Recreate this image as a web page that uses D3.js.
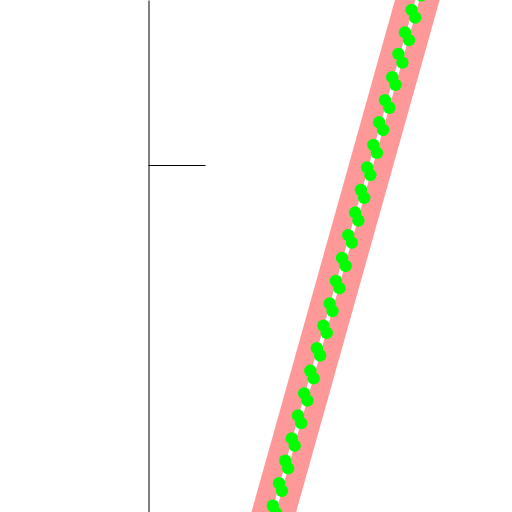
<!DOCTYPE html>
<html>
<head>
<meta charset="utf-8">
<script src="https://cdn.jsdelivr.net/npm/d3@7"></script>
<style>
  html, body { margin: 0; padding: 0; background: #fff; }
  svg { display: block; overflow: hidden; }
</style>
</head>
<body>
<div id="chart"></div>
<script>
// Trend line (band + center line) endpoints
const lineX = [32.4, 76.3];
const lineY = [-8.1, 156.2];

// Marker points
const dotX = [74.2, 75.1, 72.4, 73.4, 70.6, 71.7, 68.8, 69.9, 67.1, 68.0,
              65.1, 66.3, 63.5, 64.6, 61.9, 62.9, 60.2, 61.1, 58.5, 59.4,
              56.9, 57.8, 55.0, 56.0, 53.3, 54.3, 51.6, 52.6, 49.9, 50.7,
              48.2, 49.1, 46.4, 47.3, 44.6, 45.5, 42.9, 43.8, 41.2, 42.1,
              39.5, 40.3, 37.7, 38.5, 36.0, 36.8, 34.3, 35.2];
const dotY = [151.1, 148.9, 144.7, 142.5, 138.2, 136.0, 132.0, 129.5, 125.3, 123.1,
              118.7, 116.5, 112.3, 110.1, 105.8, 103.5, 99.3, 97.1, 92.8, 90.5,
              86.3, 84.0, 79.8, 77.6, 73.2, 70.9, 66.6, 64.5, 60.1, 57.9,
              53.7, 51.6, 47.2, 45.1, 40.7, 38.5, 34.2, 32.1, 27.8, 25.6,
              21.2, 19.1, 14.8, 12.6, 8.3, 6.1, 1.8, -0.3];

const yTicks = [100];

const W = 512, H = 512;
const svg = d3.select("#chart").append("svg")
  .attr("width", W).attr("height", H);

const x = d3.scaleLinear().domain([0, 100]).range([148, 512]);
const y = d3.scaleLinear().domain([0, 147.55]).range([512, 0]);

// Axis
const axis = d3.axisLeft(y).tickValues(yTicks).tickSize(-57).tickSizeOuter(0).tickFormat("");
const gAxis = svg.append("g").attr("transform", "translate(148.5,0)").call(axis);
gAxis.select(".domain").attr("stroke", "#000").attr("stroke-width", 1);
gAxis.selectAll(".tick line").attr("stroke", "#000").attr("stroke-width", 1.2);

const lineData = lineX.map((d, i) => [d, lineY[i]]);
const lineGen = d3.line().x(d => x(d[0])).y(d => y(d[1]));

// Thick band
svg.append("path").datum(lineData)
  .attr("d", lineGen)
  .attr("fill", "none")
  .attr("stroke", "#ff9999")
  .attr("stroke-width", 43);

// White center line
svg.append("path").datum(lineData)
  .attr("d", lineGen)
  .attr("fill", "none")
  .attr("stroke", "#ffffff")
  .attr("stroke-width", 4);

// Markers
const dots = dotX.map((d, i) => [d, dotY[i]]);
svg.append("g").selectAll("circle").data(dots).join("circle")
  .attr("cx", d => x(d[0]))
  .attr("cy", d => y(d[1]))
  .attr("r", 6.2)
  .attr("fill", "#00ff00");
</script>
</body>
</html>
